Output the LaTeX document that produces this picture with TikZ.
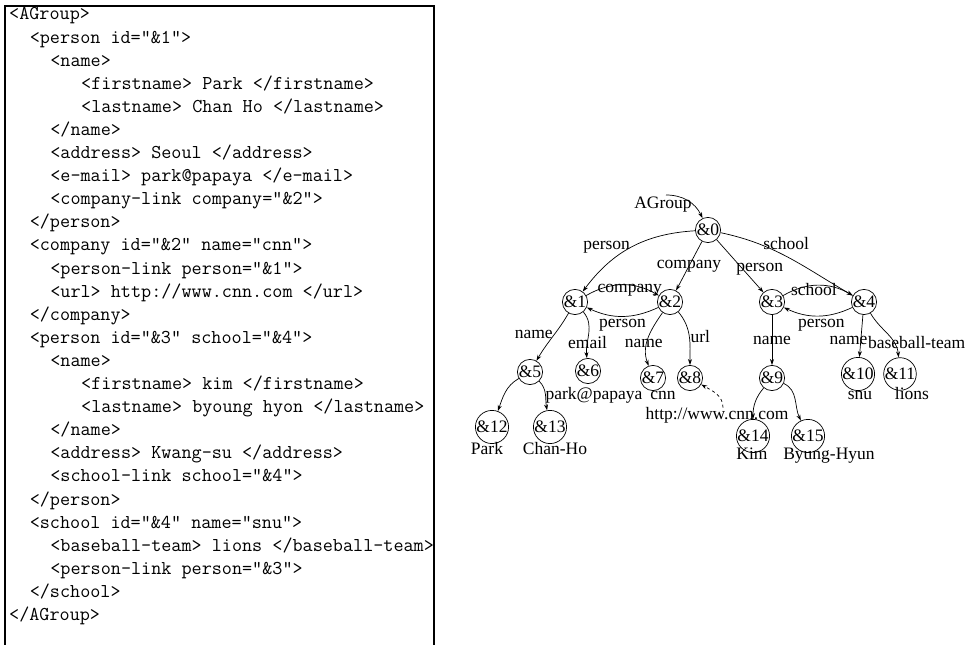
\documentclass[tikz,border=0pt]{standalone}
\usepackage{fontspec}
\setmainfont{Liberation Serif}
\usetikzlibrary{arrows.meta,positioning}

\newcommand{\graphfont}{\fontsize{17.5}{18}\selectfont}
\newcommand{\codefont}{\ttfamily\fontsize{19.6}{23}\selectfont}
\newcommand{\codeind}[1]{\hspace*{#1\dimexpr0.525em\relax}}

\begin{document}
\begin{tikzpicture}[x=1pt,y=1pt,
  obj/.style={circle,draw,line width=.7pt,minimum size=22pt,inner sep=0pt,font=\graphfont},
  lbl/.style={inner sep=1pt,font=\graphfont},
  val/.style={inner sep=0pt,anchor=base,font=\graphfont},
  link/.style={line width=.7pt,-{Stealth[length=6pt,width=4pt]}},
  codeline/.style={anchor=base west,inner sep=0pt,font=\codefont}]
  \useasboundingbox (0,0) rectangle (975,645);

  % the XML source
  \draw[line width=1.3pt] (5,0) |- (434,639) -- (434,0);
  \foreach \txt [count=\i] in {
    {<AGroup>},
    {\codeind{2}<person id="\&1">},
    {\codeind{4}<name>},
    {\codeind{7}<firstname> Park </firstname>},
    {\codeind{7}<lastname> Chan Ho </lastname>},
    {\codeind{4}</name>},
    {\codeind{4}<address> Seoul </address>},
    {\codeind{4}<e-mail> park@papaya </e-mail>},
    {\codeind{4}<company-link company="\&2">},
    {\codeind{2}</person>},
    {\codeind{2}<company id="\&2" name="cnn">},
    {\codeind{4}<person-link person="\&1">},
    {\codeind{4}<url> http://www.cnn.com </url>},
    {\codeind{2}</company>},
    {\codeind{2}<person id="\&3" school="\&4">},
    {\codeind{4}<name>},
    {\codeind{7}<firstname> kim </firstname>},
    {\codeind{7}<lastname> byoung hyon </lastname>},
    {\codeind{4}</name>},
    {\codeind{4}<address> Kwang-su </address>},
    {\codeind{4}<school-link school="\&4">},
    {\codeind{2}</person>},
    {\codeind{2}<school id="\&4" name="snu">},
    {\codeind{4}<baseball-team> lions </baseball-team>},
    {\codeind{4}<person-link person="\&3">},
    {\codeind{2}</school>},
    {</AGroup>}}
    \node[codeline] (code\i) at (9,{625-23.1*(\i-1)}) {\txt};

  % object graph
  \node[obj] (o0)  at (708,415) {\&0};
  \node[obj] (o1)  at (575,343) {\&1};
  \node[obj] (o2)  at (670,343) {\&2};
  \node[obj] (o3)  at (772,343) {\&3};
  \node[obj] (o4)  at (864,343) {\&4};
  \node[obj] (o5)  at (530,273) {\&5};
  \node[obj] (o6)  at (588,274) {\&6};
  \node[obj] (o7)  at (653,267) {\&7};
  \node[obj] (o8)  at (690,267) {\&8};
  \node[obj] (o9)  at (772,267) {\&9};
  \node[obj] (o10) at (858,271) {\&10};
  \node[obj] (o11) at (900,271) {\&11};
  \node[obj] (o12) at (492,218) {\&12};
  \node[obj] (o13) at (550,218) {\&13};
  \node[obj] (o14) at (753,209) {\&14};
  \node[obj] (o15) at (808,209) {\&15};

  \node[val] (agroup) at (663,436) {AGroup};
  \node[val] (park)   at (487,190) {Park};
  \node[val] (chanho) at (555,190) {Chan-Ho};
  \node[val] (email)  at (594,245) {park@papaya};
  \node[val] (cnn)    at (663,245) {cnn};
  \node[val] (cnnurl) at (717,225) {http://www.cnn.com};
  \node[val] (snu)    at (860,245) {snu};
  \node[val] (lions)  at (912,245) {lions};
  \node[val] (kim)    at (752,185) {Kim};
  \node[val] (byung)  at (829,185) {Byung-Hyun};
  \coordinate (agtip) at (666,450);

  \draw[link] (agtip) to[out=0,in=115] (o0);
  \draw[link] (o0) to[bend right=25] node[lbl,pos=.5,anchor=east] {person} (o1);
  \draw[link] (o0) -- node[lbl,pos=.5] {company} (o2);
  \draw[link] (o0) -- node[lbl,pos=.5,anchor=west,xshift=-5pt,yshift=-3pt] {person} (o3);
  \draw[link] (o0) to[out=-12,in=150] node[lbl,pos=.45,anchor=south,xshift=3pt,yshift=4pt] {school} (o4);
  \draw[link] (o1) to[out=30,in=150] node[lbl,pos=.6,anchor=base,yshift=-7pt] {company} (o2);
  \draw[link] (o2) to[out=-155,in=-25] node[lbl,pos=.5,below=2pt] {person} (o1);
  \draw[link] (o3) to[out=30,in=150] node[lbl,pos=.5,anchor=base,xshift=-4pt,yshift=-10pt] {school} (o4);
  \draw[link] (o4) to[out=-155,in=-25] node[lbl,pos=.45,below=2pt] {person} (o3);
  \draw[link] (o1) to[out=240,in=60] node[lbl,pos=.45,anchor=east] {name} (o5);
  \draw[link] (o1) to[out=-50,in=95] node[lbl,pos=.7] {email} (o6);
  \draw[link] (o2) to[out=-125,in=110] node[lbl,pos=.6,xshift=-3pt] {name} (o7);
  \draw[link] (o2) to[out=-50,in=90] node[lbl,pos=.5,anchor=west] {url} (o8);
  \draw[link] (o3) -- node[lbl,pos=.5] {name} (o9);
  \draw[link] (o4) -- node[lbl,pos=.6,anchor=east,xshift=8pt] {name} (o10);
  \draw[link] (o4) to[out=-60,in=95] node[lbl,pos=.5,anchor=west,xshift=-21pt,yshift=-8pt] {baseball-team} (o11);
  \draw[link] (o5) to[out=-150,in=70] (o12);
  \draw[link] (o5) to[out=-45,in=100] (o13);
  \draw[link] (o9) to[out=-130,in=90] (o14);
  \draw[link] (o9) to[out=-25,in=115] (o15);
  \draw[link,dashed] ([xshift=6pt]cnnurl.north) to[out=90,in=-30] (o8);
\end{tikzpicture}
\end{document}
